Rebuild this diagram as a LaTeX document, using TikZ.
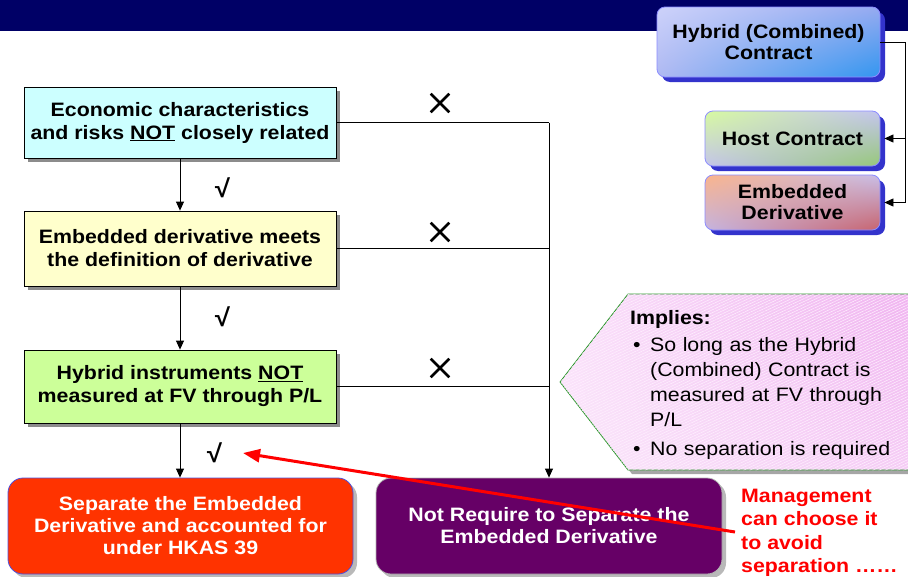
\documentclass[tikz,border=0pt]{standalone}
\usepackage{fontspec}
\setmainfont{Liberation Sans}[FakeStretch=1.1]
\usetikzlibrary{arrows.meta,shadows,shapes.misc,patterns.meta,shadings}
\definecolor{navyhead}{RGB}{0,0,102}
\definecolor{boxcyan}{RGB}{204,255,255}
\definecolor{boxyellow}{RGB}{255,255,204}
\definecolor{boxgreen}{RGB}{204,255,153}
\definecolor{sepred}{RGB}{255,51,0}
\definecolor{sepborder}{RGB}{80,80,220}
\definecolor{nrpurple}{RGB}{102,0,102}
\definecolor{tshadow}{RGB}{51,51,204}
\definecolor{callgreen}{RGB}{40,150,40}
\definecolor{hyUL}{RGB}{205,210,250}
\definecolor{hyUR}{RGB}{150,170,240}
\definecolor{hyLL}{RGB}{175,185,242}
\definecolor{hyLR}{RGB}{50,150,240}
\definecolor{hoUL}{RGB}{215,250,160}
\definecolor{hoUR}{RGB}{196,196,240}
\definecolor{hoLL}{RGB}{196,196,236}
\definecolor{hoLR}{RGB}{150,200,120}
\definecolor{emUL}{RGB}{250,180,140}
\definecolor{emUR}{RGB}{200,190,232}
\definecolor{emLL}{RGB}{196,180,225}
\definecolor{emLR}{RGB}{200,100,110}
\definecolor{caUL}{RGB}{250,225,250}
\definecolor{caUR}{RGB}{240,180,240}
\definecolor{caLL}{RGB}{250,230,250}
\definecolor{caLR}{RGB}{245,205,245}
\definecolor{hatch}{RGB}{255,240,255}
\newcommand\bxfont{\fontsize{19.4}{23}\selectfont\bfseries}
\newcommand\wbfont{\fontsize{19.4}{22}\selectfont\bfseries}
\begin{document}
\begin{tikzpicture}[x=1pt,y=-1pt,
  tri/.style={-{Triangle[length=9pt,width=8pt]}},
  conn/.style={line width=0.8pt, black},
  flowbox/.style={draw=black, line width=0.8pt, minimum width=312pt, inner sep=0pt,
    align=center, font=\bxfont,
    drop shadow={shadow xshift=4pt, shadow yshift=-4pt, fill=gray!90, opacity=1}},
  endbox/.style={rounded corners=15pt, minimum height=96pt, inner sep=0pt, align=center,
    font=\wbfont, text=white, line width=0.8pt,
    drop shadow={shadow xshift=4pt, shadow yshift=-4pt, fill=gray!55, opacity=1}},
  topbox/.style={rounded corners=8pt, draw=blue!45!white, line width=0.8pt, inner sep=0pt,
    align=center, font=\fontsize{19.4}{21}\selectfont\bfseries,
    drop shadow={shadow xshift=5pt, shadow yshift=-5pt, fill=tshadow, opacity=1}},
  xmark/.style={cross out, draw=black, line width=2.6pt, minimum size=16pt, inner sep=0pt},
  chk/.style={font=\fontsize{25}{25}\selectfont\itshape\bfseries}
]
\useasboundingbox (0,0) rectangle (908,576);
\fill[navyhead] (0,0) rectangle (908,31);

% flow boxes
\node[flowbox, fill=boxcyan, minimum height=71pt] (b1) at (180,122.5)
  {Economic characteristics\\and risks \underline{NOT} closely related};
\node[flowbox, fill=boxyellow, minimum height=75pt] (b2) at (180,248.5)
  {Embedded derivative meets\\the definition of derivative};
\node[flowbox, fill=boxgreen, minimum height=73pt] (b3) at (180,386.5)
  {Hybrid instruments \underline{NOT}\\measured at FV through P/L};

% end boxes
\node[endbox, fill=sepred, draw=sepborder, minimum width=345pt] (sep) at (180.5,526)
  {Separate the Embedded\\Derivative and accounted for\\under HKAS 39};
\node[endbox, fill=nrpurple, draw=gray!60, minimum width=346pt] (nr) at (549,526)
  {Not Require to Separate the\\Embedded Derivative};

% connectors
\draw[conn, tri] (b1.south) -- (b2.north);
\draw[conn, tri] (b2.south) -- (b3.north);
\draw[conn, tri] (b3.south) -- (b3.south |- sep.north);
\draw[conn] (b1.east) -- (b1.east -| nr.north);
\draw[conn] (b2.east) -- (b2.east -| nr.north);
\draw[conn] (b3.east) -- (b3.east -| nr.north);
\draw[conn, tri] (b1.east -| nr.north) -- (nr.north);

% marks
\node[xmark] (x1) at (440,103) {};
\node[xmark] (x2) at (440,232) {};
\node[xmark] (x3) at (440,368) {};
\node[chk] (c1) at (221,188) {√};
\node[chk] (c2) at (221,317) {√};
\node[chk] (c3) at (213,453) {√};

% top right boxes
\node[topbox, minimum width=223pt, minimum height=70pt,
  upper left=hyUL, upper right=hyUR, lower left=hyLL, lower right=hyLR] (hy) at (768.5,42)
  {Hybrid (Combined)\\Contract};
\node[topbox, minimum width=175pt, minimum height=55pt,
  upper left=hoUL, upper right=hoUR, lower left=hoLL, lower right=hoLR] (host) at (792.5,138.5)
  {Host Contract};
\node[topbox, minimum width=175pt, minimum height=55pt,
  upper left=emUL, upper right=emUR, lower left=emLL, lower right=emLR] (emb) at (792.5,202.5)
  {Embedded\\Derivative};
\coordinate (hc) at ([xshift=25pt]hy.east);
\draw[conn] (hy.east) -- (hc);
\draw[conn, tri] (hc) |- ([xshift=4pt]host.east);
\draw[conn, tri] (hc) |- ([xshift=4pt]emb.east);

% callout
\path[upper left=caUL, upper right=caUR, lower left=caLL, lower right=caLR,
  draw=callgreen, line width=0.8pt,
  drop shadow={shadow xshift=4pt, shadow yshift=-4pt, fill=gray!70, opacity=1}]
  (560,382) -- (628,294) -- (912,294) -- (912,470) -- (628,470) -- cycle;
\path[pattern={Lines[angle=25,distance=2.6pt,line width=0.5pt]}, pattern color=hatch]
  (560,382) -- (628,294) -- (912,294) -- (912,470) -- (628,470) -- cycle;
\node[anchor=north west, inner sep=0pt, text width=270pt,
  font=\fontsize{19.4}{25}\selectfont] (imp) at (630,310) {%
  \parindent=0pt
  {\bfseries Implies:}\par\vspace{2pt}
  \makebox[20pt][l]{\hspace{3pt}•}So long as the Hybrid\par
  \hspace*{20pt}(Combined) Contract is\par
  \hspace*{20pt}measured at FV through\par
  \hspace*{20pt}P/L\par\vspace{4pt}
  \makebox[20pt][l]{\hspace{3pt}•}No separation is required\par};

% management note
\node[anchor=north west, inner sep=0pt, align=left, text=red,
  font=\fontsize{19.4}{23.3}\selectfont\bfseries] (mg) at (741,489)
  {Management\\can choose it\\to avoid\\separation ……};
\coordinate (ra) at (735,532);
\coordinate (rb) at (243,453);
\draw[red, line width=3pt, -{Triangle[length=17pt,width=13pt]}] (ra) -- (rb);
\end{tikzpicture}
\end{document}
